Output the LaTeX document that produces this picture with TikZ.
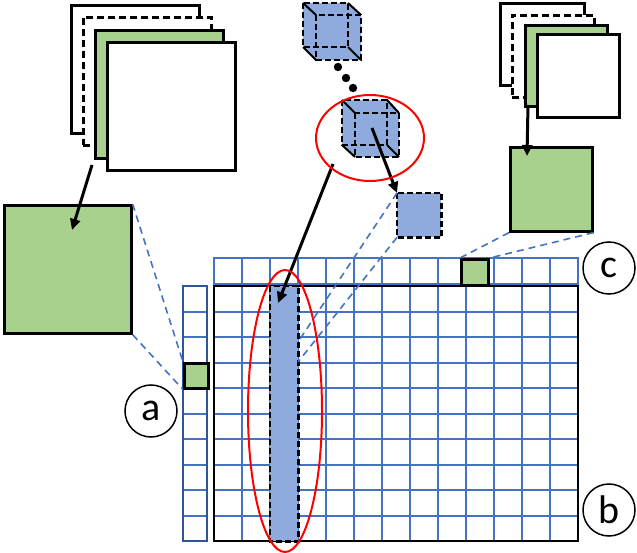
\documentclass[tikz,border=0pt]{standalone}
\usepackage{fontspec}
\setmainfont{Carlito}
\usetikzlibrary{arrows.meta,shapes.geometric}
\definecolor{gfill}{HTML}{A9D18E}
\definecolor{bfill}{HTML}{8FAADC}
\definecolor{gline}{HTML}{4472C4}
\definecolor{gdark}{HTML}{2F5597}
\tikzset{
 sheet/.style={draw=black,line width=2.6pt},
 dsheet/.style={draw=black,line width=2.6pt,dash pattern=on 7pt off 4pt},
 arr/.style={line width=3pt,-{Triangle[length=11pt,width=10pt]}},
 guide/.style={draw=gline,line width=1.6pt,dash pattern=on 7pt off 5pt},
 lab/.style={circle,draw,line width=1.5pt,minimum size=52pt,inner sep=0pt,font=\fontsize{40}{40}\selectfont},
 cdash/.style={draw=black,line width=2.6pt,dash pattern=on 6pt off 3pt},
 redell/.style={draw=red,line width=2pt},
 gridl/.style={gline,line width=2pt}
}
\newcommand{\sq}[5]{\node[#1,minimum width=#4pt,minimum height=#5pt,inner sep=0pt,anchor=north west] (#2) at #3 {};}
\begin{document}
\begin{tikzpicture}[x=1pt,y=-1pt]
\useasboundingbox (0,0) rectangle (637,553);
% left stack
\sq{sheet,fill=white}{L1}{(70,4)}{128}{128}
\sq{dsheet,fill=white}{L2}{(82,16)}{128}{128}
\sq{sheet,fill=gfill}{L3}{(94,29)}{128}{128}
\sq{sheet,fill=white}{L4}{(106,41)}{128}{128}
\sq{sheet,fill=gfill}{LG}{(3,204)}{127}{128}
\coordinate (la) at (92,165);
\draw[arr] (la) -- (72,230);
% right stack
\sq{sheet,fill=white}{R1}{(499,2)}{84}{82}
\sq{dsheet,fill=white}{R2}{(511,14)}{82}{82}
\sq{sheet,fill=gfill}{R3}{(524,24)}{82}{81}
\sq{sheet,fill=white}{R4}{(536,33)}{82}{83}
\sq{sheet,fill=gfill}{RG}{(509,146)}{82}{84}
\coordinate (ra) at (528,105);
\draw[arr] (ra) -- (527,156);
% grid: left column
\foreach \i in {0,...,9}{
  \draw[gridl] (183,286+25.5*\i) -- (207,286+25.5*\i);}
\draw[gdark,line width=2.6pt] (183,286) rectangle (207,541);
\sq{sheet,fill=gfill}{AG}{(183,362)}{24}{25}
% top row
\foreach \i in {1,...,12}{
  \draw[gridl] (214+28*\i,258) -- (214+28*\i,284);}
\draw[gridl] (214,258) rectangle (578,284);
\sq{sheet,fill=gfill}{CG}{(460,258)}{27}{26}
% main grid
\foreach \i in {1,...,12}{
  \draw[gridl] (214+28*\i,286) -- (214+28*\i,541);}
\foreach \i in {1,...,9}{
  \draw[gridl] (214,286+25.5*\i) -- (578,286+25.5*\i);}
\draw[black,line width=2.6pt] (214,286) rectangle (578,541);
\node[fill=bfill,minimum width=28pt,minimum height=255pt,inner sep=0pt,anchor=north west] (col) at (270,286) {};
\draw[cdash] (col.north west) rectangle (col.south east);
% cubes
\fill[bfill] (303,3) -- (348,3) -- (361,15) -- (361,60) -- (316,60) -- (303,47) -- cycle;
\draw[cdash] (303,3) rectangle (348,47);
\draw[cdash] (316,15) rectangle (361,60);
\draw[line width=2pt] (303,3)--(316,15) (348,3)--(361,15) (348,47)--(361,60) (303,47)--(316,60);
\fill[bfill] (342,100) -- (387,100) -- (399,113) -- (399,157) -- (355,157) -- (342,145) -- cycle;
\draw[cdash] (342,100) rectangle (387,145);
\draw[cdash] (355,113) rectangle (399,157);
\draw[line width=2pt] (342,100)--(355,113) (387,100)--(399,113) (387,145)--(399,157) (342,145)--(355,157);
\coordinate (cube2) at (372,128);
\foreach \p in {(338,67),(346,78),(353,88)} \fill \p circle (4.2);
\sq{fill=bfill}{SB}{(397,193)}{44}{44}
\draw[cdash] (SB.north west) rectangle (SB.south east);
\draw[arr] (cube2) -- (SB.north west);
\coordinate (ls) at (333,164);
\draw[arr] (ls) -- (278,303);
% red ellipses
\node[redell,ellipse,minimum width=108pt,minimum height=86pt] (e1) at (370,138) {};
\draw[redell] (285,411) ellipse (37 and 141);
% guides
\coordinate (g1) at (298,342);
\coordinate (g2) at (298,362);
\draw[guide] (SB.north west) -- (g1);
\draw[guide] (SB.south west) -- (g2);
\draw[guide] (LG.north east) -- (AG.north west);
\draw[guide] (LG.south east) -- (AG.south west);
\draw[guide] (RG.south west) -- (CG.north west);
\draw[guide] (RG.south east) -- (CG.north east);
% labels
\node[lab] (a) at (151,411) {a};
\node[lab] (b) at (609,510) {b};
\node[lab] (c) at (609,268) {c};
\end{tikzpicture}
\end{document}
